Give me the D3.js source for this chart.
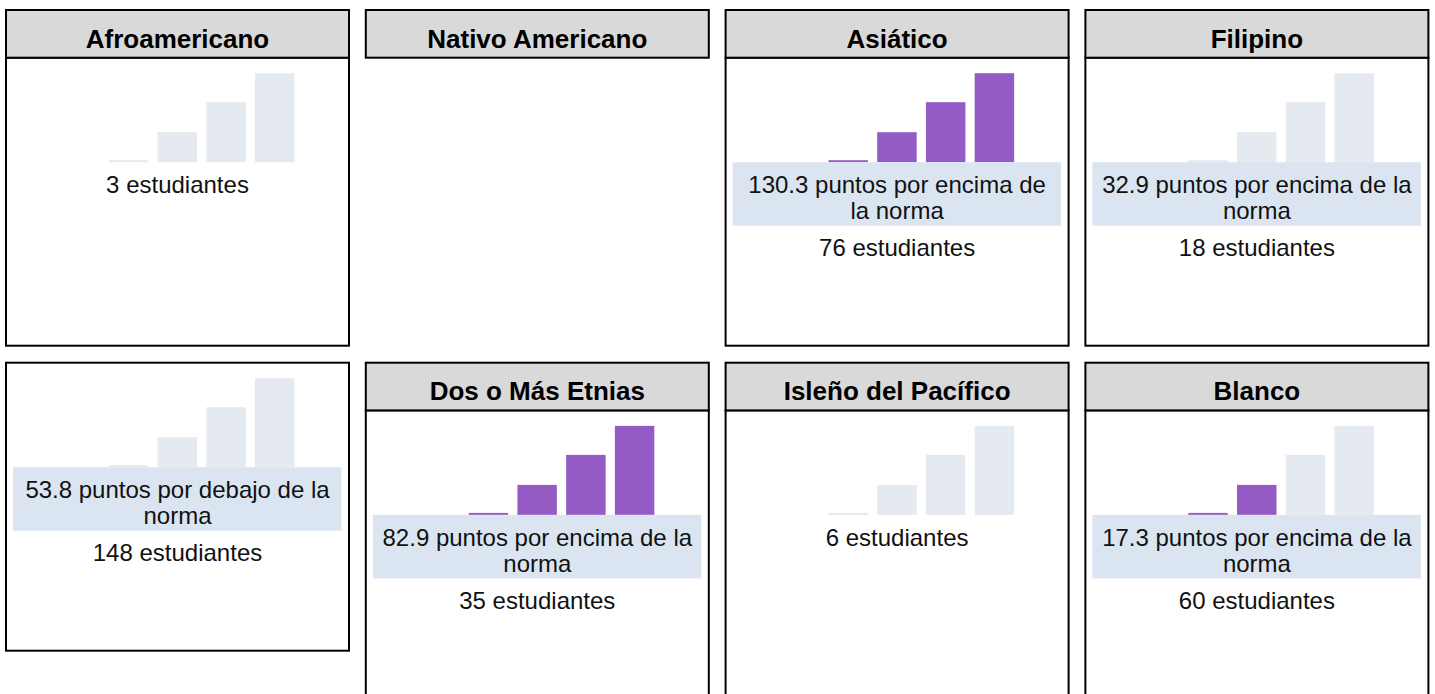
<!DOCTYPE html>
<html><head><meta charset="utf-8">
<script src="https://cdn.jsdelivr.net/npm/d3@7"></script>
<style>html,body{margin:0;padding:0;background:#fff;} svg{display:block;}</style>
</head><body><svg id="chart" width="1435" height="694"></svg>
<script>
// ---- data ----
const groups = ["Afroamericano","Nativo Americano","Asiático","Filipino","Hispano","Dos o Más Etnias","Isleño del Pacífico","Blanco"];
const headerLabels = ["Afroamericano","Nativo Americano","Asiático","Filipino","","Dos o Más Etnias","Isleño del Pacífico","Blanco"];
const hasResults = [true,false,true,true,true,true,true,true];
const distanceLabels = ["", "", "130.3 puntos por encima de la norma", "32.9 puntos por encima de la norma",
  "53.8 puntos por debajo de la norma", "82.9 puntos por encima de la norma", "", "17.3 puntos por encima de la norma"];
const studentCounts = [3, null, 76, 18, 148, 35, 6, 60];
const highlightedBars = [0, 0, 4, 0, 0, 4, 0, 2];
const levels = ["1","2","3","4"];
const levelHeights = [2, 30, 60, 89];

// ---- style / layout ----
const FONT = "'Liberation Sans', Arial, Helvetica, sans-serif";
const colPitch = 359.8, panelW = 343, headerH = 47.7, bodyH = 288;
const rowTops = [10, 362.7];
const colX = d3.scaleLinear().domain([0, 3]).range([6, 6 + 3 * colPitch]);
const purple = "#955bc5", grey = "#e5e9f0", boxFill = "#dbe5f1", headFill = "#d9d9d9";

const svg = d3.select("#chart");

function wrap(text, maxW) {
  const probe = svg.append("text").attr("font-family", FONT).attr("font-size", 24);
  const words = text.split(" ");
  const lines = [];
  let cur = "";
  words.forEach(w => {
    const t = cur ? cur + " " + w : w;
    probe.text(t);
    if (probe.node().getComputedTextLength() > maxW && cur) { lines.push(cur); cur = w; }
    else cur = t;
  });
  if (cur) lines.push(cur);
  probe.remove();
  return lines;
}

groups.forEach((g, i) => {
  const col = i % 4, row = Math.floor(i / 4);
  const x0 = colX(col), y0 = rowTops[row];
  const hasHeader = headerLabels[i] !== "";
  const bodyTop = hasHeader ? y0 + headerH : y0;
  const p = svg.append("g").attr("class", "panel");

  if (hasResults[i]) {
    p.append("rect").attr("x", x0).attr("y", bodyTop).attr("width", panelW).attr("height", bodyH)
      .attr("fill", "#fff").attr("stroke", "#000").attr("stroke-width", 2);

    const base = bodyTop + 104.5;
    const xs = d3.scaleBand().domain(levels).range([x0 + 98, x0 + 293.4]).paddingInner(0.19).paddingOuter(0.1);
    const ys = d3.scaleLinear().domain([0, 89]).range([base, base - 89]);
    p.selectAll("rect.bar").data(levels).join("rect").attr("class", "bar")
      .attr("x", d => xs(d)).attr("width", xs.bandwidth())
      .attr("y", (d, k) => ys(levelHeights[k])).attr("height", (d, k) => base - ys(levelHeights[k]))
      .attr("fill", (d, k) => k < highlightedBars[i] ? purple : grey);

    const cx = x0 + panelW / 2;
    let nextBase = base + 31;
    if (distanceLabels[i]) {
      const lines = wrap(distanceLabels[i], 315);
      const boxH = 63.5 + (lines.length - 2) * 26;
      p.append("rect").attr("x", x0 + 7).attr("y", base).attr("width", 328.5).attr("height", boxH).attr("fill", boxFill);
      lines.forEach((ln, k) => {
        p.append("text").attr("x", cx).attr("y", base + 31 + k * 26).attr("text-anchor", "middle")
          .attr("font-family", FONT).attr("font-size", 24).attr("fill", "#111").text(ln);
      });
      nextBase = base + boxH + 30.5;
    }
    if (studentCounts[i] != null) {
      p.append("text").attr("x", cx).attr("y", nextBase).attr("text-anchor", "middle")
        .attr("font-family", FONT).attr("font-size", 24).attr("fill", "#111").text(studentCounts[i] + " estudiantes");
    }
  }

  if (hasHeader) {
    p.append("rect").attr("x", x0).attr("y", y0).attr("width", panelW).attr("height", headerH)
      .attr("fill", headFill).attr("stroke", "#000").attr("stroke-width", 2);
    p.append("text").attr("x", x0 + panelW / 2).attr("y", y0 + 37.5).attr("text-anchor", "middle")
      .attr("font-family", FONT).attr("font-weight", "bold").attr("font-size", 26).attr("fill", "#000")
      .text(headerLabels[i]);
  }
});
</script></body></html>
